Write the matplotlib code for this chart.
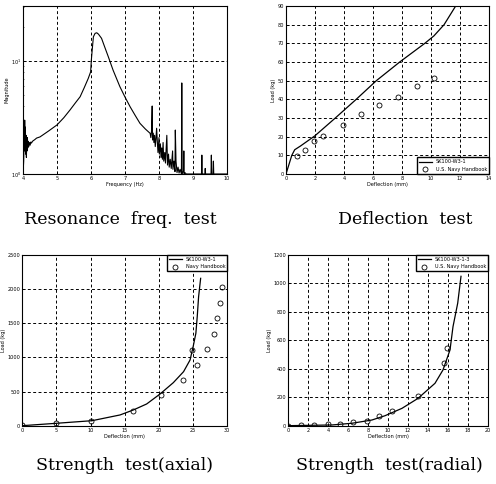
import matplotlib
matplotlib.use('Agg')
import matplotlib.pyplot as plt

# resonance frequency test (magnitude vs frequency)
freq = [4.00, 4.02, 4.03, 4.04, 4.05, 4.06, 4.07, 4.08, 4.09, 4.10, 4.11, 4.12,
        4.13, 4.14, 4.15, 4.17, 4.19, 4.21, 4.23, 4.25, 4.28, 4.31, 4.35, 4.40,
        4.50, 4.75, 5.00, 5.20, 5.38, 5.55, 5.68, 5.80, 5.92, 5.99, 6.01, 6.04,
        6.07, 6.12, 6.17, 6.22, 6.31, 6.40, 6.51, 6.65, 6.85, 7.00, 7.15, 7.30,
        7.44, 7.60, 7.74, 7.76, 7.78, 7.80, 7.81, 7.83, 7.85, 7.87, 7.89, 7.91,
        7.93, 7.95, 7.97, 8.00, 8.01, 8.04, 8.06, 8.08, 8.10, 8.12, 8.14, 8.17,
        8.19, 8.23, 8.25, 8.28, 8.30, 8.33, 8.36, 8.40, 8.41, 8.44, 8.47, 8.48,
        8.50, 8.53, 8.56, 8.59, 8.62, 8.66, 8.67, 8.68, 8.72, 8.73, 8.74, 8.76,
        8.80, 8.85, 9.00, 9.25, 9.26, 9.27, 9.35, 9.36, 9.37, 9.53, 9.54, 9.55,
        9.59, 9.60, 9.61, 10.00]
mag = [1.00, 1.30, 1.90, 1.60, 3.00, 1.70, 2.60, 1.50, 2.20, 1.40, 1.95, 1.60,
       2.10, 1.70, 1.95, 1.75, 1.90, 1.80, 1.92, 1.88, 1.95, 1.98, 2.02, 2.08,
       2.13, 2.40, 2.72, 3.15, 3.68, 4.30, 4.83, 5.80, 7.03, 8.04, 10.2, 13.0,
       16.4, 17.6, 17.8, 17.3, 15.9, 13.4, 10.9, 8.30, 5.93, 4.80, 3.94, 3.30,
       2.81, 2.50, 2.29, 2.10, 2.40, 4.00, 2.00, 2.30, 1.90, 2.20, 1.75, 2.05,
       2.54, 1.95, 1.55, 2.10, 1.50, 1.85, 1.40, 1.70, 1.35, 1.90, 1.30, 1.55,
       1.25, 2.20, 1.20, 1.50, 1.15, 1.35, 1.12, 1.60, 1.10, 1.30, 1.05, 2.45,
       1.30, 1.03, 1.15, 1.02, 1.10, 1.00, 6.40, 1.00, 1.06, 1.60, 1.00, 1.03,
       1.00, 1.00, 1.00, 1.00, 1.47, 1.00, 1.00, 1.12, 1.00, 1.00, 1.47, 1.00,
       1.00, 1.30, 1.00, 1.00]

# deflection test
defl_x = [0.0, 0.2, 0.4, 0.6, 1.0, 2.0, 3.4, 4.84, 6.23, 7.84, 9.57, 10.2, 10.9, 11.3, 11.7]
defl_y = [0.0, 5.0, 10.0, 13.0, 15.0, 20.5, 30.0, 40.0, 50.0, 60.0, 70.0, 74.0, 80.0, 85.0, 90.0]
defl_hx = [0.74, 1.31, 1.95, 2.57, 3.9, 5.17, 6.41, 7.75, 9.0, 10.2]
defl_hy = [9.4, 13.0, 17.5, 20.2, 26.5, 31.9, 36.8, 41.5, 46.9, 51.7]

# strength test (axial)
ax_x = [0.0, 5.0, 10.2, 14.3, 16.25, 18.2, 20.16, 22.1, 23.6, 24.55, 25.0, 25.4,
        25.6, 25.8, 26.1]
ax_y = [0, 35, 73, 157, 230, 318, 464, 630, 791, 962, 1157, 1353, 1596, 1889, 2158]
ax_hx = [0.0, 5.0, 10.1, 16.2, 20.3, 23.5, 24.8, 25.5, 27.1, 28.1, 28.5, 29.0, 29.2]
ax_hy = [10, 38, 75, 220, 445, 670, 1110, 889, 1118, 1342, 1572, 1800, 2035]

# strength test (radial)
rad_x = [0.0, 4.4, 6.4, 8.4, 9.7, 11.4, 13.0, 14.7, 15.5, 16.2, 16.5, 16.97, 17.3]
rad_y = [0, 5, 17, 40, 70, 122, 192, 298, 392, 532, 696, 861, 1050]
rad_hx = [0.0, 1.3, 2.6, 4.0, 5.2, 6.5, 7.9, 9.1, 10.4, 13.0, 15.6, 15.9]
rad_hy = [0, 5, 5, 10, 15, 28, 35, 70, 103, 209, 439, 549]

tick_fs = 3.6
grid_kw = dict(color='black', linestyle=(0, (3, 2.5)), linewidth=0.7)


def style(ax):
    ax.tick_params(direction='in', labelsize=tick_fs, length=2, width=0.5, pad=1.5)
    ax.tick_params(which='minor', direction='in', length=1, width=0.4)
    for s in ax.spines.values():
        s.set_linewidth(0.8)
    ax.grid(True, which='major', **grid_kw)
    ax.set_axisbelow(True)


fig = plt.figure(figsize=(4.96, 4.84), dpi=100)

a1 = fig.add_axes([23 / 496, 0.6405, 204 / 496, 0.347])
a1.plot(freq, mag, color='black', linewidth=0.8)
a1.set_yscale('log')
a1.set_xlim(4, 10)
a1.set_ylim(1, 30.7)
a1.set_xticks([4, 5, 6, 7, 8, 9, 10])
a1.set_xlabel('Frequency (Hz)', fontsize=tick_fs, labelpad=1)
a1.set_ylabel('Magnitude', fontsize=tick_fs, labelpad=1)
style(a1)

a2 = fig.add_axes([286 / 496, 0.6405, 203 / 496, 0.347])
a2.plot(defl_x, defl_y, color='black', linewidth=0.9, label='SK100-W3-1')
a2.plot(defl_hx, defl_hy, 'o', mfc='none', mec='black', ms=3.6, mew=0.6,
        label='U.S. Navy Handbook')
a2.set_xlim(0, 14)
a2.set_ylim(0, 90)
a2.set_xticks(range(0, 15, 2))
a2.set_yticks(range(0, 91, 10))
a2.set_xlabel('Deflection (mm)', fontsize=tick_fs, labelpad=1)
a2.set_ylabel('Load (kg)', fontsize=tick_fs, labelpad=1)
style(a2)
a2.legend(loc='lower right', fontsize=3.6, fancybox=False, edgecolor='black',
          framealpha=1, borderaxespad=0, handlelength=2.5, borderpad=0.4)

a3 = fig.add_axes([22.3 / 496, 0.1205, 205 / 496, 0.3527])
a3.plot(ax_x, ax_y, color='black', linewidth=0.9, label='SK100-W3-1')
a3.plot(ax_hx, ax_hy, 'o', mfc='none', mec='black', ms=3.6, mew=0.6,
        label='Navy Handbook')
a3.set_xlim(0, 30)
a3.set_ylim(0, 2500)
a3.set_xticks(range(0, 31, 5))
a3.set_yticks(range(0, 2501, 500))
a3.set_xlabel('Deflection (mm)', fontsize=tick_fs, labelpad=1)
a3.set_ylabel('Load (kg)', fontsize=tick_fs, labelpad=1)
style(a3)
a3.legend(loc='upper right', fontsize=3.6, fancybox=False, edgecolor='black',
          framealpha=1, borderaxespad=0, handlelength=2.5, borderpad=0.4)

a4 = fig.add_axes([288 / 496, 0.1205, 200 / 496, 0.3527])
a4.plot(rad_x, rad_y, color='black', linewidth=0.9, label='SK100-W3-1-3')
a4.plot(rad_hx, rad_hy, 'o', mfc='none', mec='black', ms=3.6, mew=0.6,
        label='U.S. Navy Handbook')
a4.set_xlim(0, 20)
a4.set_ylim(0, 1200)
a4.set_xticks(range(0, 21, 2))
a4.set_yticks(range(0, 1201, 200))
a4.set_xlabel('Deflection (mm)', fontsize=tick_fs, labelpad=1)
a4.set_ylabel('Load (kg)', fontsize=tick_fs, labelpad=1)
style(a4)
a4.legend(loc='upper right', fontsize=3.6, fancybox=False, edgecolor='black',
          framealpha=1, borderaxespad=0, handlelength=2.5, borderpad=0.4)

cap = dict(fontsize=12.5, family='DejaVu Serif', ha='center', va='baseline')
fig.text(120 / 496, 1 - 224 / 484, 'Resonance  freq.  test', **cap)
fig.text(405 / 496, 1 - 224 / 484, 'Deflection  test', **cap)
fig.text(124 / 496, 1 - 470 / 484, 'Strength  test(axial)', **cap)
fig.text(389 / 496, 1 - 470 / 484, 'Strength  test(radial)', **cap)

fig.savefig('out.png', dpi=100)
